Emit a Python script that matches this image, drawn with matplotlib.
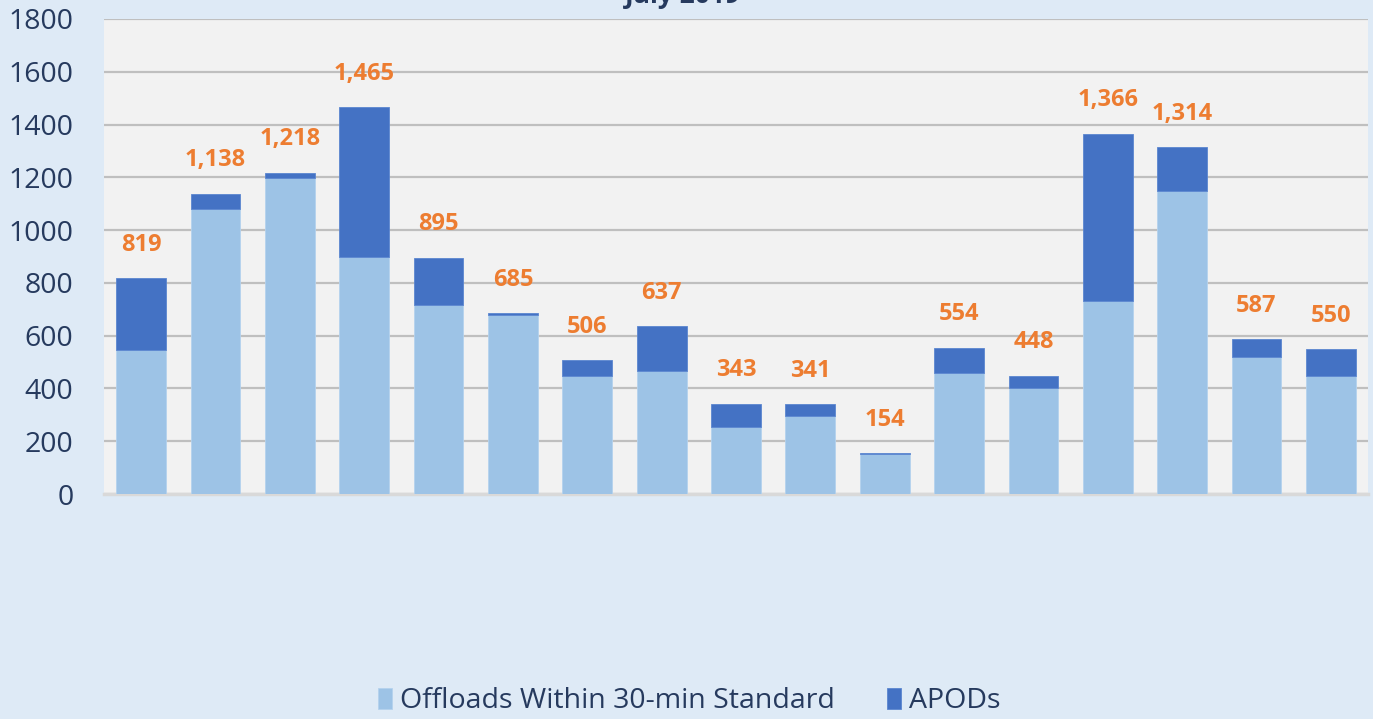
import numpy as np
import matplotlib.pyplot as plt

# values
totals = [819, 1138, 1218, 1465, 895, 685, 506, 637, 343, 341, 154, 554, 448, 1366, 1314, 587, 550]
offloads = [546, 1080, 1197, 898, 716, 678, 447, 466, 254, 296, 150, 458, 403, 731, 1148, 519, 446]
apods = [t - o for t, o in zip(totals, offloads)]

LIGHT = '#9DC3E6'
DARK = '#4472C4'
ORANGE = '#ED7D31'
NAVY = '#263A5E'
BG = '#DEEAF6'

plt.rcParams['font.family'] = ['Open Sans', 'DejaVu Sans']

fig = plt.figure(figsize=(13.73, 7.19), dpi=100, facecolor=BG)
ax = fig.add_axes([0.0757, 0.3129, 0.9207, 0.6607])
ax.set_facecolor('#F2F2F2')

x = np.arange(len(totals))
ax.bar(x, offloads, width=0.67, color=LIGHT, edgecolor='#B4D2EE', linewidth=0.6,
       label='Offloads Within 30-min Standard', zorder=3)
ax.bar(x, apods, bottom=offloads, width=0.67, color=DARK, edgecolor='#5B86D0', linewidth=0.6,
       label='APODs', zorder=3)

for xi, t in zip(x, totals):
    ax.annotate(f'{t:,}', (xi, t), xytext=(0, 24), textcoords='offset points',
                ha='center', va='center', color=ORANGE, fontsize=17, fontweight='bold')

ax.set_xlim(-0.5, len(totals) - 0.5)
ax.set_ylim(0, 1800)
ax.set_yticks(range(0, 1801, 200))
ax.set_xticks([])
ax.tick_params(axis='y', length=0, pad=22, labelsize=20.5, labelcolor=NAVY)
ax.grid(axis='y', color='#BFBFBF', linewidth=1.6, zorder=0)
for side in ['top', 'right', 'left']:
    ax.spines[side].set_visible(False)
ax.spines['bottom'].set_color('#D9D9D9')
ax.spines['bottom'].set_linewidth(2.5)

# title sits mostly above the canvas, as in the source image
fig.text(0.497, 1 - 3 / 719, 'July 2019', ha='center', va='baseline',
         color=NAVY, fontsize=19, fontweight='bold')

leg = fig.legend(loc='center', bbox_to_anchor=(0.502, 0.025), ncol=2, frameon=False,
                 fontsize=20.5, labelcolor=NAVY, handlelength=0.5, handleheight=0.75,
                 handletextpad=0.3, columnspacing=1.8)

fig.savefig('out.png', dpi=100, facecolor=BG)
